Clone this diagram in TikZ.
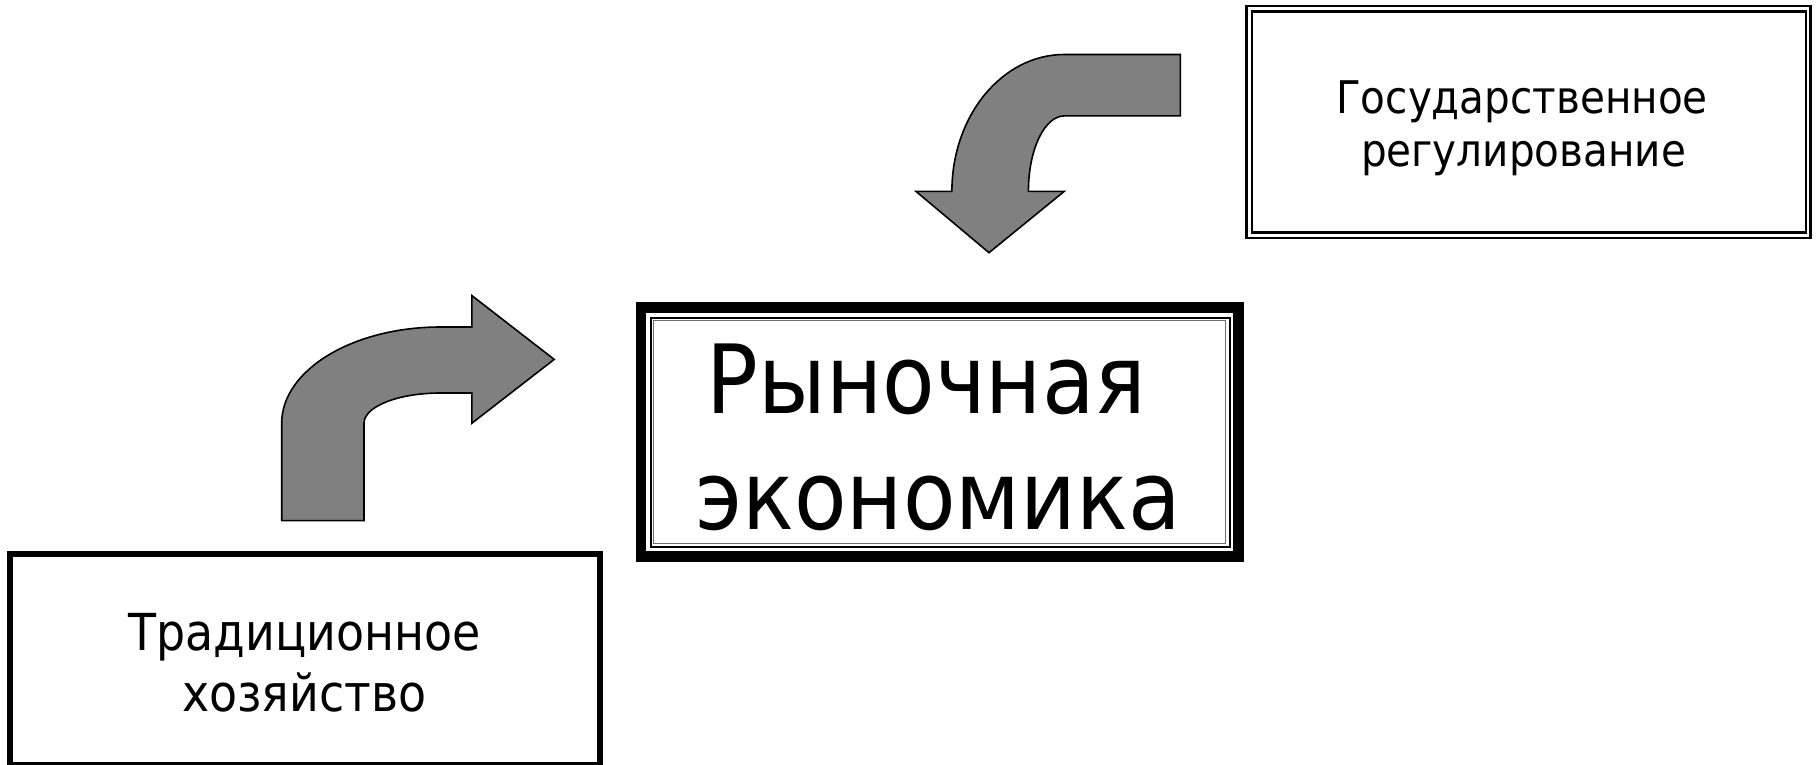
\documentclass[tikz,border=0pt]{standalone}
\usepackage{fontspec}
\newfontfamily\tah[FakeStretch=0.9]{DejaVu Sans}
\definecolor{arrowgray}{HTML}{808080}
\definecolor{linegray}{HTML}{6E6E6E}
\begin{document}
\begin{tikzpicture}[x=1pt,y=-1pt,
  lbl/.style={inner sep=0pt, anchor=base, text=black},
  bigtext/.style={lbl, font=\tah\fontsize{95.5}{116}\selectfont},
  midtext/.style={lbl, font=\tah\fontsize{45}{54}\selectfont},
  lowtext/.style={lbl, font=\tah\fontsize{51}{61}\selectfont},
  thickframe/.style={draw=black, line width=10.5pt},
  thinframe/.style={draw=black, line width=2pt},
  grayframe/.style={draw=linegray, line width=1.2pt},
  dblframe/.style={draw=black, line width=2.4pt},
  plainframe/.style={draw=black, line width=6pt},
  blockarrow/.style={fill=arrowgray, draw=black, line width=1.6pt, line join=miter}]
\useasboundingbox (0,0) rectangle (1818,765);
\fill[white] (0,0) rectangle (1818,765);

% central box: Рыночная экономика
\draw[thickframe] (641,307.5) rectangle (1238.5,556.3);
\draw[thinframe] (651,317.7) rectangle (1229.5,547);
\draw[grayframe] (653.5,320.7) rectangle (1225.5,543.5);
\node[bigtext] (r1) at (926.4,413.9) {Рыночная};
\node[bigtext] (r2) at (938,529.8) {экономика};

% top right box: Государственное регулирование
\draw[dblframe] (1246.5,5.8) rectangle (1810.5,238);
\draw[dblframe] (1252,11.7) rectangle (1806,232.5);
\node[midtext] (g1) at (1522,114) {Государственное};
\node[midtext] (g2) at (1523.5,166.5) {регулирование};

% bottom left box: Традиционное хозяйство
\draw[plainframe] (10.3,553.7) rectangle (599.5,764.5);
\node[lowtext] (t1) at (304.5,650) {Традиционное};
\node[lowtext] (t2) at (304.3,711) {хозяйство};

% bent arrow from the bottom-left box to the centre
\draw[blockarrow] (281.7,520.6) -- (281.7,423.2)
  .. controls (281.7,370.1) and (352.8,327) .. (440.6,327)
  -- (471.9,327) -- (471.9,295.6) -- (554.2,359.4) -- (471.9,423.2)
  -- (471.9,393) -- (440.6,393)
  .. controls (398.3,393) and (364,406.5) .. (364,423.2)
  -- (364,520.6) -- cycle;

% bent arrow from the top-right box to the centre
\draw[blockarrow] (1180.3,54.5) -- (1064.3,54.5)
  .. controls (1002.2,54.5) and (951.9,115.7) .. (951.9,191.3)
  -- (915.9,191.3) -- (989,252.7) -- (1064.3,191.3) -- (1028.4,191.3)
  .. controls (1028.4,149.7) and (1044.5,115.9) .. (1064.3,115.9)
  -- (1180.3,115.9) -- cycle;
\end{tikzpicture}
\end{document}
